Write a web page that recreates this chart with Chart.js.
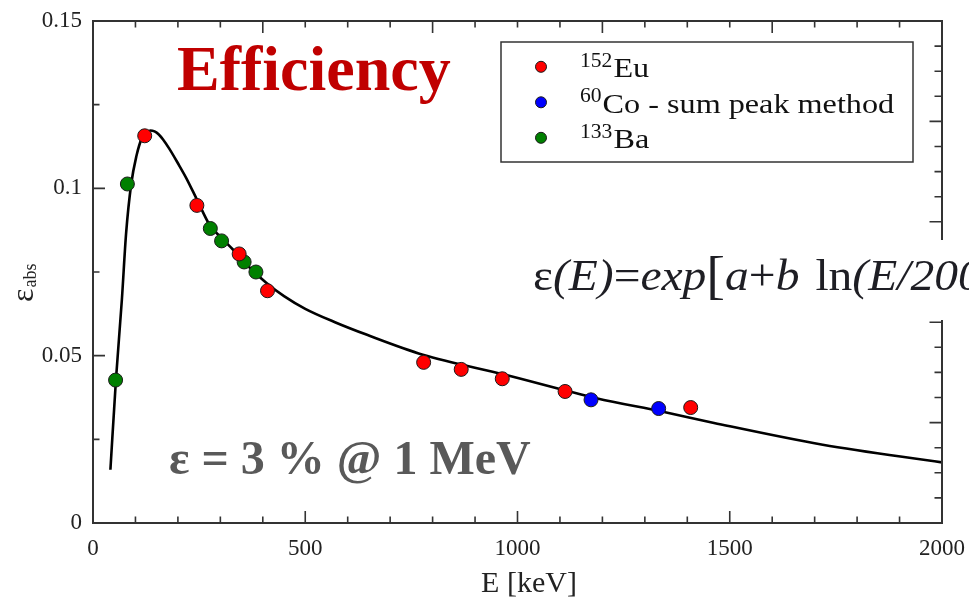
<!DOCTYPE html>
<html>
<head>
<meta charset="utf-8">
<script src="https://cdn.jsdelivr.net/npm/chart.js@4.4.1/dist/chart.umd.min.js"></script>
<style>
  body { margin: 0; background: #fff; }
  canvas { display: block; }
</style>
</head>
<body>
<canvas id="effChart" width="969" height="599"></canvas>
<script>
// measured absolute efficiencies, energy in keV
const euEnergy = [121.8, 244.7, 344.3, 411.1, 778.9, 867.4, 964.1, 1112.1, 1408.0];
const euEff = [0.1157, 0.0949, 0.0804, 0.0694, 0.0480, 0.0459, 0.0431, 0.0393, 0.0345];
const coEnergy = [1173.2, 1332.5];
const coEff = [0.0368, 0.0342];
const baEnergy = [53.2, 81.0, 276.4, 302.9, 356.0, 383.8];
const baEff = [0.0427, 0.1013, 0.0880, 0.0843, 0.0780, 0.0750];

// fitted efficiency curve
const fitEnergy = [41, 54, 68, 78, 90, 102, 115, 125, 135, 145, 155, 165, 180, 200, 220, 245, 275, 300, 329, 370, 408, 450, 500, 570, 644, 777, 971, 1186, 1340, 1463, 1719, 2000];
const fitEff = [0.0159, 0.0427, 0.0667, 0.0866, 0.1013, 0.1095, 0.1150, 0.1166, 0.1173, 0.1170, 0.1161, 0.1146, 0.1118, 0.1075, 0.1030, 0.0966, 0.0890, 0.0855, 0.0818, 0.0762, 0.0718, 0.0678, 0.0640, 0.0600, 0.0563, 0.0503, 0.0443, 0.0373, 0.0333, 0.0299, 0.0234, 0.0181];

const xTicks = [0, 500, 1000, 1500, 2000];
const yTicks = [0, 0.05, 0.1, 0.15];

const legendItems = [
  { sup: '152', name: 'Eu', color: '#ff0000' },
  { sup: '60', name: 'Co - sum peak method', color: '#0000ff' },
  { sup: '133', name: 'Ba', color: '#008000' }
];

const serif = "'Liberation Serif', 'Times New Roman', serif";

function pts(xs, ys) {
  return xs.map((x, i) => ({ x: x, y: ys[i] }));
}

function pointSet(label, xs, ys, color) {
  return {
    type: 'scatter',
    label: label,
    data: pts(xs, ys),
    backgroundColor: color,
    borderColor: '#1a1a1a',
    borderWidth: 1,
    pointRadius: 7,
    order: 0
  };
}

// text stretched a little wider, like the plotting program's serif
function wideText(ctx, txt, x, y, sx) {
  ctx.save();
  ctx.translate(x, y);
  ctx.scale(sx, 1);
  ctx.fillText(txt, 0, 0);
  ctx.restore();
  return ctx.measureText(txt).width * sx;
}

// frame with inward ticks, legend box and text notes
const decor = {
  id: 'decor',
  afterDraw(chart) {
    const { ctx, chartArea: a, scales } = chart;
    const x = scales.x, y = scales.y, y2 = scales.y2;
    ctx.save();

    ctx.strokeStyle = '#333';
    ctx.lineWidth = 2;
    ctx.strokeRect(a.left, a.top, a.right - a.left, a.bottom - a.top);

    ctx.lineWidth = 1.6;
    ctx.beginPath();
    for (let i = 1; i < 20; i++) {
      const px = x.getPixelForValue(i * 100);
      const lb = i % 5 === 0 ? 12 : 6.5;
      ctx.moveTo(px, a.bottom); ctx.lineTo(px, a.bottom - lb);
      const lt = i % 4 === 0 ? 12 : 6.5;
      ctx.moveTo(px, a.top); ctx.lineTo(px, a.top + lt);
    }
    for (let i = 1; i < 6; i++) {
      const py = y.getPixelForValue(i * 0.025);
      const ll = i % 2 === 0 ? 12 : 6.5;
      ctx.moveTo(a.left, py); ctx.lineTo(a.left + ll, py);
    }
    for (let i = 1; i < 20; i++) {
      const py = y2.getPixelForValue(i);
      const lr = i % 4 === 0 ? 12.5 : 7.5;
      ctx.moveTo(a.right, py); ctx.lineTo(a.right - lr, py);
    }
    ctx.stroke();

    ctx.textBaseline = 'alphabetic';

    // axis titles
    ctx.fillStyle = '#222';
    ctx.font = '30px ' + serif;
    ctx.textAlign = 'center';
    ctx.fillText('E [keV]', 529, 592);
    ctx.textAlign = 'left';

    ctx.save();
    ctx.translate(33, 302);
    ctx.rotate(-Math.PI / 2);
    ctx.font = '32px ' + serif;
    ctx.fillText('ε', 0, 0);
    const ew = ctx.measureText('ε').width;
    ctx.font = '18px ' + serif;
    ctx.fillText('abs', ew + 1, 3);
    ctx.restore();

    // legend
    const lx = 501, ly = 42, lw = 412, lh = 120;
    ctx.fillStyle = '#fff';
    ctx.fillRect(lx, ly, lw, lh);
    ctx.strokeStyle = '#333';
    ctx.lineWidth = 1.5;
    ctx.strokeRect(lx, ly, lw, lh);
    legendItems.forEach((it, i) => {
      const rowY = 77.3 + i * 35.5;
      ctx.beginPath();
      ctx.arc(541, rowY - 10.5, 5.5, 0, Math.PI * 2);
      ctx.fillStyle = it.color;
      ctx.fill();
      ctx.lineWidth = 1;
      ctx.strokeStyle = '#1a1a1a';
      ctx.stroke();
      ctx.fillStyle = '#111';
      ctx.font = '20px ' + serif;
      const sw = wideText(ctx, it.sup, 580, rowY - 10.5, 1.08);
      ctx.font = '28px ' + serif;
      wideText(ctx, it.name, 581 + sw, rowY, 1.15);
    });

    // white panel with the fit formula
    ctx.fillStyle = '#fff';
    ctx.fillRect(525, 240, 444, 80);
    const parts = [
      ['ε', '', 0], ['(', 'italic ', 0], ['E', 'italic ', 0], [')', 'italic ', 0], ['=', '', 0],
      ['exp', 'italic ', 0], ['[', 'big', 0], ['a', 'italic ', 0], ['+', '', 0], ['b', 'italic ', 0],
      ['ln', '', 16], ['(', 'italic ', 0], ['E', 'italic ', 0], ['/200)', 'italic ', 0]
    ];
    let fx = 533;
    ctx.fillStyle = '#1e1e24';
    parts.forEach(p => {
      fx += p[2];
      ctx.font = p[1] === 'big' ? '52px ' + serif : p[1] + '44px ' + serif;
      fx += wideText(ctx, p[0], fx, p[1] === 'big' ? 293 : 290, 1.08);
    });

    ctx.fillStyle = '#c00000';
    ctx.font = 'bold 64px ' + serif;
    ctx.fillText('Efficiency', 177, 90);

    ctx.fillStyle = '#595959';
    ctx.font = 'bold 48px ' + serif;
    ctx.fillText('ε = 3 % @ 1 MeV', 169, 474);

    ctx.restore();
  }
};

const config = {
  type: 'scatter',
  data: {
    datasets: [
      pointSet('152Eu', euEnergy, euEff, '#ff0000'),
      pointSet('60Co - sum peak method', coEnergy, coEff, '#0000ff'),
      pointSet('133Ba', baEnergy, baEff, '#008000'),
      {
        type: 'line',
        label: 'fit',
        data: pts(fitEnergy, fitEff),
        borderColor: '#000',
        borderWidth: 2.6,
        pointRadius: 0,
        fill: false,
        cubicInterpolationMode: 'monotone',
        order: 1
      }
    ]
  },
  options: {
    responsive: false,
    animation: false,
    layout: { padding: { top: 21, right: 27, left: 0, bottom: 0 } },
    plugins: {
      legend: { display: false },
      tooltip: { enabled: false }
    },
    scales: {
      x: {
        type: 'linear',
        min: 0,
        max: 2000,
        afterBuildTicks: s => { s.ticks = xTicks.map(v => ({ value: v })); },
        afterFit: s => { s.height = 76; s.paddingLeft = 0; s.paddingRight = 0; },
        grid: { display: false, drawTicks: false },
        border: { display: false },
        ticks: {
          padding: 12,
          color: '#222',
          font: { family: serif, size: 23 },
          maxRotation: 0,
          callback: v => String(v)
        }
      },
      y: {
        type: 'linear',
        min: 0,
        max: 0.15,
        afterBuildTicks: s => { s.ticks = yTicks.map(v => ({ value: v })); },
        afterFit: s => { s.width = 93; s.paddingTop = 0; s.paddingBottom = 0; },
        grid: { display: false, drawTicks: false },
        border: { display: false },
        ticks: {
          padding: 11,
          color: '#222',
          font: { family: serif, size: 23 },
          callback: v => String(Number(v.toFixed(2)))
        }
      },
      y2: {
        type: 'linear',
        position: 'right',
        min: 0,
        max: 20,
        display: false
      }
    }
  },
  plugins: [decor]
};

const effChart = new Chart(document.getElementById('effChart'), config);
</script>
</body>
</html>
